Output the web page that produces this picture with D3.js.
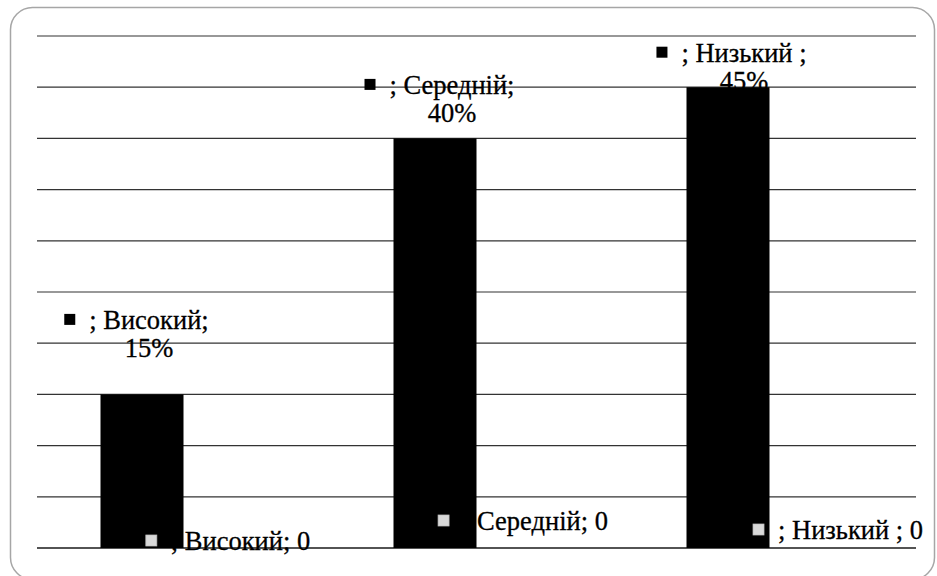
<!DOCTYPE html>
<html>
<head>
<meta charset="utf-8">
<script src="https://cdn.jsdelivr.net/npm/d3@7"></script>
</head>
<body style="margin:0;background:#fff">
<svg id="chart" width="937" height="576" style="display:block"></svg>
<script>
// Categories and the two series (percent values)
const categories = ["Високий", "Середній", "Низький "];
const levelShare = [15, 40, 45];
const secondSeries = [0, 0, 0];
const valueTicks = [0, 5, 10, 15, 20, 25, 30, 35, 40, 45, 50];

const plot = { left: 37, right: 916, top: 36, bottom: 548 };
const FONT = "Liberation Serif";
const FONT_SIZE = 26.5;

const svg = d3.select("#chart");

function addText(sel, str) {
  return sel.append("text")
    .attr("font-family", FONT)
    .attr("font-size", FONT_SIZE)
    .attr("fill", "#000")
    .attr("stroke", "#000")
    .attr("stroke-width", 0.3)
    .text(str);
}

function draw() {
  // Rounded chart frame
  svg.append("rect")
    .attr("x", 10.5).attr("y", 7.5)
    .attr("width", 924).attr("height", 572)
    .attr("rx", 22).attr("ry", 22)
    .attr("fill", "#fff")
    .attr("stroke", "#a6a6a6")
    .attr("stroke-width", 1.5);

  const x0 = d3.scaleBand()
    .domain(categories)
    .range([plot.left, plot.right])
    .paddingInner(0)
    .paddingOuter(0);

  // Clustered bars: each series takes 83px of the ~293px band, centered
  const clusterWidth = x0.bandwidth() * (166 / 293);
  const x1 = d3.scaleBand()
    .domain([0, 1])
    .range([(x0.bandwidth() - clusterWidth) / 2, (x0.bandwidth() + clusterWidth) / 2]);

  const y = d3.scaleLinear()
    .domain([0, 50])
    .range([plot.bottom, plot.top]);

  // Horizontal gridlines
  svg.append("g")
    .selectAll("line")
    .data(valueTicks)
    .join("line")
    .attr("x1", plot.left).attr("x2", plot.right)
    .attr("y1", d => y(d)).attr("y2", d => y(d))
    .attr("stroke", d => d === 0 ? "#1a1a1a" : "#333")
    .attr("stroke-width", d => d === 0 ? 1.5 : 1.2);

  // Label nudges (pixels) relative to the bar anchor
  const topNudge = [[7, -37], [17, -16], [16, 3]];
  const baseNudge = [[3, 2], [5, -18], [27, -9]];
  const lineGap = 28.5;
  const keySize = 11, keyGap = 14;

  // Labels for the first series (drawn under the bars)
  const topLabels = svg.append("g");
  categories.forEach((cat, i) => {
    const cx = x0(cat) + x1(0) + x1.bandwidth() / 2 + topNudge[i][0];
    const base2 = y(levelShare[i]) + topNudge[i][1];
    const base1 = base2 - lineGap;
    const g = topLabels.append("g");
    const t1 = addText(g, "; " + cat + ";")
      .attr("x", cx).attr("y", base1)
      .attr("text-anchor", "middle");
    addText(g, levelShare[i] + "%")
      .attr("x", cx).attr("y", base2)
      .attr("text-anchor", "middle");
    const w = t1.node().getComputedTextLength();
    g.append("rect")
      .attr("x", cx - w / 2 - keyGap - keySize)
      .attr("y", base1 - 15)
      .attr("width", keySize).attr("height", keySize)
      .attr("fill", "#000");
  });

  // Bars of the first series
  svg.append("g")
    .selectAll("rect")
    .data(categories)
    .join("rect")
    .attr("x", d => x0(d) + x1(0))
    .attr("y", (d, i) => y(levelShare[i]))
    .attr("width", x1.bandwidth())
    .attr("height", (d, i) => y(0) - y(levelShare[i]))
    .attr("fill", "#000");

  // Second series bars (zero height)
  svg.append("g")
    .selectAll("rect")
    .data(categories)
    .join("rect")
    .attr("x", d => x0(d) + x1(1))
    .attr("y", (d, i) => y(secondSeries[i]))
    .attr("width", x1.bandwidth())
    .attr("height", (d, i) => y(0) - y(secondSeries[i]))
    .attr("fill", "#d9d9d9");

  // Labels for the second series near the baseline
  const baseLabels = svg.append("g");
  categories.forEach((cat, i) => {
    const cx = x0(cat) + x1(1) + x1.bandwidth() / 2 + baseNudge[i][0];
    const base = y(secondSeries[i]) + baseNudge[i][1];
    const g = baseLabels.append("g");
    const t = addText(g, "; " + cat + "; " + secondSeries[i])
      .attr("y", base);
    const w = t.node().getComputedTextLength();
    const total = keySize + keyGap + w;
    const left = cx - total / 2;
    t.attr("x", left + keySize + keyGap);
    g.append("rect")
      .attr("x", left)
      .attr("y", base - 15)
      .attr("width", keySize).attr("height", keySize)
      .attr("fill", "#d9d9d9")
      .attr("stroke", "#bfbfbf")
      .attr("stroke-width", 0.75);
  });
}

if (document.fonts && document.fonts.load) {
  document.fonts.load(FONT_SIZE + 'px "' + FONT + '"').then(draw, draw);
} else {
  draw();
}
</script>
</body>
</html>
